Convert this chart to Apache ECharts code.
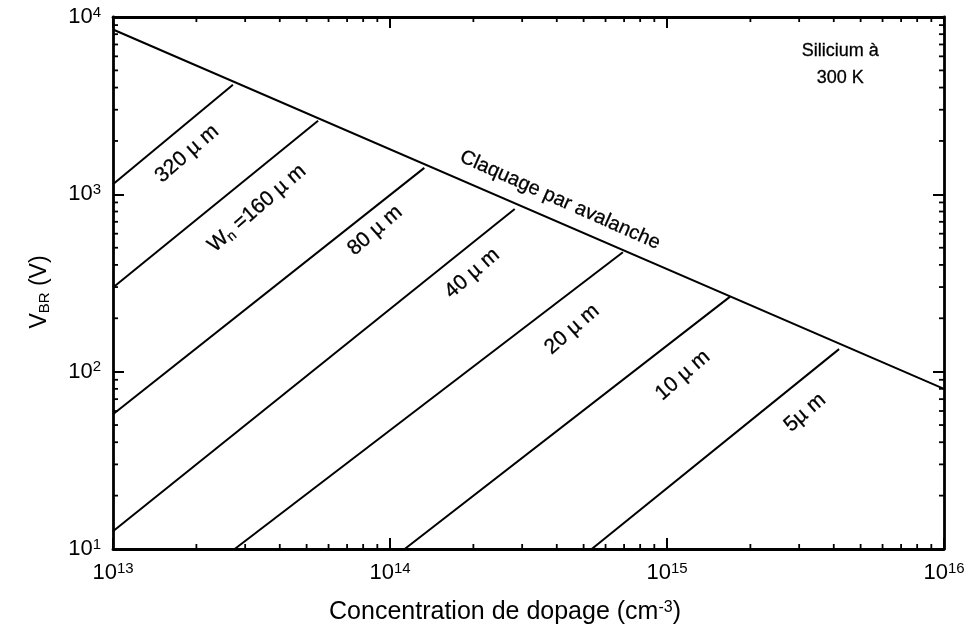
<!DOCTYPE html>
<html><head><meta charset="utf-8">
<script src="https://cdn.jsdelivr.net/npm/echarts@6/dist/echarts.min.js"></script>
<style>html,body{margin:0;padding:0;background:#fff}#c{width:970px;height:639px}</style>
</head><body><div id="c"></div>
<script>
// ---- data ----
const xMin = 1e13, xMax = 1e16;
const yMin = 10, yMax = 1e4;
const avalancheN = [1e13, 1e16];
const avalancheV = [8500, 80];
const w320N = [1e13, 2.71e13];  const w320V = [1140, 4150];
const w160N = [1e13, 5.50e13];  const w160V = [298, 2600];
const w80N  = [1e13, 1.33e14];  const w80V  = [57.5, 1410];
const w40N  = [1e13, 2.82e14];  const w40V  = [12.6, 826];
const w20N  = [2.75e13, 6.93e14]; const w20V = [10, 471];
const w10N  = [1.13e14, 1.69e15]; const w10V = [10, 265];
const w5N   = [5.35e14, 4.18e15]; const w5V  = [10, 134];
const curveLabels = ['320 µ m', 'W{sub|n} =160 µ m', '80 µ m', '40 µ m', '20 µ m', '10 µ m', '5µ m'];
const avalancheLabel = 'Claquage par avalanche';
const noteText = 'Silicium à\n300 K';
const xTitle = 'Concentration de dopage (cm{sup|-3})';
const yTitle = 'V{sub|BR} (V)';

// ---- annotation anchors (data coordinates) ----
const curveLabelAnchors = [
  [1.85e13, 1694], [3.31e13, 834], [8.83e13, 625], [1.98e14, 358],
  [4.54e14, 173], [1.14e15, 95.3], [3.15e15, 58.7]
];
const avalancheAnchor = [4.11e14, 927];
const noteAnchor = [4.22e15, 5370];

const FONT = "'Liberation Sans', Arial, Helvetica, sans-serif";
const pair = (ns, vs) => ns.map((n, i) => [n, vs[i]]);
const curves = [
  pair(w320N, w320V), pair(w160N, w160V), pair(w80N, w80V), pair(w40N, w40V),
  pair(w20N, w20V), pair(w10N, w10V), pair(w5N, w5V)
];

function minorValues(min, max) {
  const out = [];
  for (let d = min; d < max; d *= 10) {
    for (let k = 2; k <= 9; k++) out.push(d * k);
  }
  return out;
}
const xMinor = minorValues(xMin, xMax);
const yMinor = minorValues(yMin, yMax);

const powLabel = v => '{b|10}{s|' + Math.round(Math.log10(v)) + '}';
const powRich = {
  b: {fontSize: 22, fontFamily: FONT, color: '#000', lineHeight: 24},
  s: {fontSize: 15, fontFamily: FONT, color: '#000', lineHeight: 13, verticalAlign: 'top'}
};

const lineStyle = {color: '#000', width: 2};
const series = [];
series.push({
  type: 'line', data: pair(avalancheN, avalancheV), symbol: 'none',
  lineStyle: lineStyle, silent: true, animation: false
});
curves.forEach(c => series.push({
  type: 'line', data: c, symbol: 'none', lineStyle: lineStyle, silent: true, animation: false
}));

// minor ticks on all four sides
series.push({
  type: 'custom', silent: true, animation: false, clip: false,
  data: xMinor.map(v => [v, yMin]),
  renderItem: (params, api) => {
    const cs = params.coordSys;
    const p = api.coord([api.value(0), api.value(1)]);
    const st = {stroke: '#000', lineWidth: 1.8};
    return {type: 'group', children: [
      {type: 'line', shape: {x1: p[0], y1: cs.y + cs.height, x2: p[0], y2: cs.y + cs.height - 5}, style: st},
      {type: 'line', shape: {x1: p[0], y1: cs.y, x2: p[0], y2: cs.y + 5}, style: st}
    ]};
  }
});
series.push({
  type: 'custom', silent: true, animation: false, clip: false,
  data: yMinor.map(v => [xMin, v]),
  renderItem: (params, api) => {
    const cs = params.coordSys;
    const p = api.coord([api.value(0), api.value(1)]);
    const st = {stroke: '#000', lineWidth: 1.8};
    return {type: 'group', children: [
      {type: 'line', shape: {x1: cs.x, y1: p[1], x2: cs.x + 5, y2: p[1]}, style: st},
      {type: 'line', shape: {x1: cs.x + cs.width, y1: p[1], x2: cs.x + cs.width - 5, y2: p[1]}, style: st}
    ]};
  }
});

// text annotations
const annData = curveLabelAnchors.map((a, i) => ({
  value: a,
  label: {formatter: curveLabels[i], rotate: 41}
}));
annData.push({value: avalancheAnchor, label: {formatter: avalancheLabel, rotate: -24, fontSize: 20}});
annData.push({value: noteAnchor, label: {formatter: noteText, rotate: 0, fontSize: 18, lineHeight: 27}});
series.push({
  type: 'scatter', symbolSize: 0, silent: true, animation: false,
  itemStyle: {color: '#000', opacity: 1},
  data: annData,
  label: {
    show: true, position: [0, 0], align: 'center', verticalAlign: 'middle',
    color: '#000', opacity: 1, fontFamily: FONT, fontSize: 21,
    textBorderWidth: 0.3, textBorderColor: '#000',
    rich: {sub: {fontSize: 14, fontFamily: FONT, color: '#000', verticalAlign: 'bottom', padding: [9, 0, 0, 0]}}
  },
  labelLayout: {hideOverlap: false}
});

const baseAxis = {
  type: 'log', logBase: 10,
  axisLine: {show: true, lineStyle: {color: '#000', width: 2.8}},
  axisTick: {show: true, inside: true, length: 11, lineStyle: {color: '#000', width: 2}},
  splitLine: {show: false}, minorTick: {show: false}
};

const option = {
  animation: false,
  backgroundColor: '#fff',
  grid: {left: 113, right: 26, top: 17, bottom: 90, containLabel: false},
  xAxis: [
    Object.assign({}, baseAxis, {position: 'bottom', min: xMin, max: xMax,
      axisLabel: {show: true, formatter: powLabel, rich: powRich, margin: 12}}),
    Object.assign({}, baseAxis, {position: 'top', min: xMin, max: xMax, axisLabel: {show: false}})
  ],
  yAxis: [
    Object.assign({}, baseAxis, {position: 'left', min: yMin, max: yMax,
      axisLabel: {show: true, formatter: powLabel, rich: powRich, margin: 12}}),
    Object.assign({}, baseAxis, {position: 'right', min: yMin, max: yMax, axisLabel: {show: false}})
  ],
  graphic: [
    {type: 'text', x: 40, y: 292, rotation: Math.PI / 2, silent: true,
      style: {text: yTitle, fill: '#000', font: '23px ' + FONT,
        align: 'center', verticalAlign: 'middle', textAlign: 'center', textVerticalAlign: 'middle',
        rich: {sub: {fontSize: 15, fontFamily: FONT, fill: '#000', verticalAlign: 'bottom', padding: [10, 0, 0, 0]}}}},
    {type: 'text', x: 505, y: 612, silent: true,
      style: {text: xTitle, fill: '#000', font: '25px ' + FONT,
        align: 'center', verticalAlign: 'middle', textAlign: 'center', textVerticalAlign: 'middle',
        rich: {sup: {fontSize: 16, fontFamily: FONT, fill: '#000', verticalAlign: 'top', lineHeight: 13}}}}
  ],
  series: series
};

const chart = echarts.init(document.getElementById('c'), null, {renderer: 'canvas'});
chart.setOption(option);
</script>
</body></html>
